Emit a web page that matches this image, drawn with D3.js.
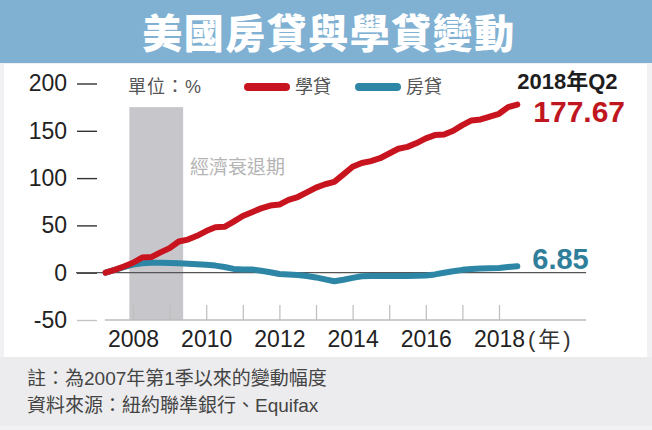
<!DOCTYPE html>
<html>
<head>
<meta charset="utf-8">
<script src="https://cdn.jsdelivr.net/npm/d3@7"></script>
<style>
  body { margin: 0; background: #f1f1f3; }
  svg { display: block; font-family: "Liberation Sans", "Noto Sans CJK TC", sans-serif; }
</style>
</head>
<body>
<div id="chart"></div>
<script>
//********************************* DATA *********************************
var quarters = ["2007Q1","2007Q2","2007Q3","2007Q4",
  "2008Q1","2008Q2","2008Q3","2008Q4","2009Q1","2009Q2","2009Q3","2009Q4",
  "2010Q1","2010Q2","2010Q3","2010Q4","2011Q1","2011Q2","2011Q3","2011Q4",
  "2012Q1","2012Q2","2012Q3","2012Q4","2013Q1","2013Q2","2013Q3","2013Q4",
  "2014Q1","2014Q2","2014Q3","2014Q4","2015Q1","2015Q2","2015Q3","2015Q4",
  "2016Q1","2016Q2","2016Q3","2016Q4","2017Q1","2017Q2","2017Q3","2017Q4",
  "2018Q1","2018Q2"];

// 學貸 (student loans), % change since 2007Q1
var studentLoan = [0, 3, 6.5, 10.5, 16, 16.5, 21.5, 26, 33, 35, 39, 44,
  48, 48.5, 54, 60, 64, 68, 71, 72, 77, 80, 85, 90,
  93.5, 96, 104, 112, 116, 118, 121, 126, 131, 133, 137, 142,
  145.5, 146, 150, 156, 161, 162, 165, 168, 175, 177.67];

// 房貸 (mortgages), % change since 2007Q1
var mortgage = [0, 3, 6, 8.5, 10, 10.5, 10.5, 10.3, 10, 9.5, 9, 8.5,
  7.5, 6, 4, 3.5, 3.5, 2, 0.5, -1.4, -2, -2.5, -3.5, -5,
  -7, -9, -7.5, -5.5, -3.8, -3.5, -3.5, -3.5, -3.5, -3.5, -3.3, -3,
  -1.8, 0, 1.5, 3, 3.8, 4.5, 4.8, 5, 6, 6.85];

var yTicks = [-50, 0, 50, 100, 150, 200];
var xMinorTicks = [2008, 2009, 2010, 2011, 2012, 2013, 2014, 2015, 2016, 2017, 2018];
var xLabels = [2008, 2010, 2012, 2014, 2016, 2018];
var recession = [2007.9, 2009.37];
var recessionTop = 175;

var titleText = "美國房貸與學貸變動";
var unitText = "單位：%";
var legendNames = ["學貸", "房貸"];
var recessionText = "經濟衰退期";
var yearUnit = "(年)";
var lastLabel = "2018年Q2";
var notes = ["註：為2007年第1季以來的變動幅度", "資料來源：紐約聯準銀行、Equifax"];

//********************************* SETUP *********************************
var W = 652, H = 430;
var red = "#c8141e", blue = "#2d86a5";

function qToYear(q){
  return +q.slice(0, 4) + (+q.slice(5)) / 4;
}

var svg = d3.select("#chart").append("svg")
  .attr("width", W)
  .attr("height", H);

// backgrounds
svg.append("rect").attr("width", W).attr("height", H).attr("fill", "#f1f1f3");
svg.append("rect").attr("x", 4).attr("y", 64).attr("width", 643).attr("height", 293).attr("fill", "#ffffff");
svg.append("rect").attr("x", 0).attr("y", 0).attr("width", W).attr("height", 63).attr("fill", "#80b1d3");

svg.append("text")
  .text(titleText)
  .attr("x", 329)
  .attr("y", 48)
  .attr("text-anchor", "middle")
  .attr("font-size", 40)
  .attr("font-weight", 900)
  .attr("letter-spacing", 1.5)
  .attr("fill", "#ffffff");

var x = d3.scaleLinear().domain([2008, 2018]).range([133, 499]);
var y = d3.scaleLinear().domain([-50, 200]).range([320, 83.5]);

//RECESSION BAND
svg.append("rect")
  .attr("x", x(recession[0]))
  .attr("y", y(recessionTop))
  .attr("width", x(recession[1]) - x(recession[0]))
  .attr("height", y(-50) - y(recessionTop))
  .attr("fill", "#c6c6cb");

svg.append("text")
  .text(recessionText)
  .attr("x", 190)
  .attr("y", 174)
  .attr("font-size", 19)
  .attr("fill", "#b4b4b4");

//Y AXIS
var yAxis = svg.append("g")
  .attr("transform", "translate(97,0)")
  .call(d3.axisLeft(y).tickValues(yTicks).tickSize(20).tickPadding(10).tickFormat(String));
yAxis.select(".domain").remove();
yAxis.selectAll("line").attr("stroke", function(d){ return d == -50 ? "#c4c4c4" : "#333"; }).attr("stroke-width", 1.4);
yAxis.selectAll("text")
  .attr("font-size", 23)
  .attr("fill", "#222")
  .style("font-family", "Liberation Sans, sans-serif");

//X AXIS
var xAxis = svg.append("g")
  .attr("transform", "translate(0," + y(-50) + ")")
  .call(d3.axisBottom(x).tickValues(xMinorTicks).tickSize(-15).tickPadding(11)
    .tickFormat(function(d){ return xLabels.indexOf(d) >= 0 ? d : ""; }));
xAxis.select(".domain").remove();
xAxis.selectAll("line").attr("stroke", "#bdbdbd").attr("stroke-width", 1.2);
xAxis.selectAll("text")
  .attr("font-size", 23)
  .attr("fill", "#222")
  .style("font-family", "Liberation Sans, sans-serif");

svg.append("line")
  .attr("x1", x(2007.23)).attr("x2", x(2020.38))
  .attr("y1", y(-50)).attr("y2", y(-50))
  .attr("stroke", "#bdbdbd").attr("stroke-width", 1.5);

svg.append("text")
  .text(yearUnit)
  .attr("x", 528)
  .attr("y", 347)
  .attr("font-size", 22)
  .attr("letter-spacing", 3)
  .attr("fill", "#333");

// zero line
svg.append("line")
  .attr("x1", 76).attr("x2", x(2020.38))
  .attr("y1", y(0)).attr("y2", y(0))
  .attr("stroke", "#555").attr("stroke-width", 1.2);

//LINES
var line = d3.line()
  .x(function(d){ return x(qToYear(d[0])); })
  .y(function(d){ return y(d[1]); });

var series = [
  { name: legendNames[1], values: d3.zip(quarters, mortgage), color: blue },
  { name: legendNames[0], values: d3.zip(quarters, studentLoan), color: red }
];

svg.selectAll("path.series")
  .data(series)
  .enter()
    .append("path")
    .attr("class", "series")
    .attr("d", function(d){ return line(d.values); })
    .attr("fill", "none")
    .attr("stroke", function(d){ return d.color; })
    .attr("stroke-width", 6)
    .attr("stroke-linejoin", "round")
    .attr("stroke-linecap", "round");

//END LABELS
var lastQ = quarters[quarters.length - 1];
var lastX = x(qToYear(lastQ));

svg.append("text")
  .text(lastLabel)
  .attr("x", lastX)
  .attr("y", 89)
  .attr("font-size", 22)
  .attr("font-weight", "bold")
  .attr("fill", "#1e1e1e");

svg.append("text")
  .text(studentLoan[studentLoan.length - 1].toFixed(2))
  .attr("x", lastX + 16)
  .attr("y", y(studentLoan[studentLoan.length - 1]) + 17)
  .attr("font-size", 30)
  .attr("font-weight", "bold")
  .attr("fill", "#c0161f");

svg.append("text")
  .text(mortgage[mortgage.length - 1].toFixed(2))
  .attr("x", lastX + 15)
  .attr("y", y(mortgage[mortgage.length - 1]) + 3)
  .attr("font-size", 29)
  .attr("font-weight", "bold")
  .attr("fill", "#2f7f9a");

//LEGEND
svg.append("text")
  .text(unitText)
  .attr("x", 128)
  .attr("y", 93)
  .attr("font-size", 18)
  .attr("letter-spacing", 1)
  .attr("fill", "#555");

var legend = svg.selectAll("g.legend")
  .data([series[1], series[0]])
  .enter()
    .append("g")
    .attr("class", "legend")
    .attr("transform", function(d, i){ return "translate(" + (248 + i * 111) + ",87)"; });

legend.append("line")
  .attr("x1", 0).attr("x2", 38)
  .attr("stroke", function(d){ return d.color; })
  .attr("stroke-width", 8)
  .attr("stroke-linecap", "round");

legend.append("text")
  .text(function(d){ return d.name; })
  .attr("x", 47)
  .attr("y", 6)
  .attr("font-size", 18)
  .attr("fill", "#555");

//FOOTER
svg.append("rect").attr("x", 0).attr("y", 357).attr("width", W).attr("height", 69).attr("fill", "#ececee");

svg.selectAll("text.note")
  .data(notes)
  .enter()
    .append("text")
    .attr("class", "note")
    .text(function(d){ return d; })
    .attr("x", 27)
    .attr("y", function(d, i){ return 385 + i * 27; })
    .attr("font-size", 19)
    .attr("fill", "#444");
</script>
</body>
</html>
